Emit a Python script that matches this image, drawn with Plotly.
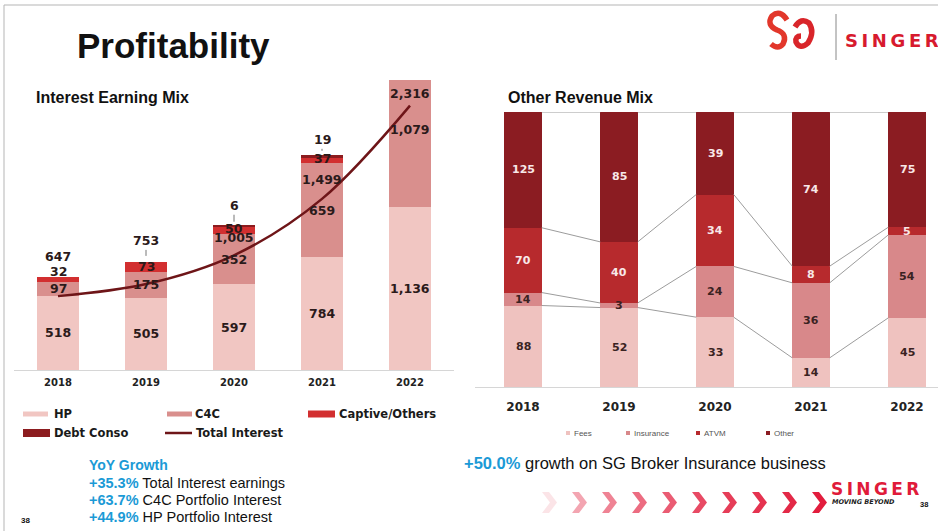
import plotly.graph_objects as go
import numpy as np

W, H = 938, 531

# ---------------- data ----------------
years = [2018, 2019, 2020, 2021, 2022]
year_labels = ["2018", "2019", "2020", "2021", "2022"]

# Interest Earning Mix (THB m)
hp = [518, 505, 597, 784, 1136]
c4c = [97, 175, 352, 659, 1079]
captive = [32, 73, 50, 37, 101]
debt_conso = [0, 0, 6, 19, 0]
total_interest = [647, 753, 1005, 1499, 2316]

# Other Revenue Mix
fees = [88, 52, 33, 14, 45]
insurance = [14, 3, 24, 36, 54]
atvm = [70, 40, 34, 8, 5]
other = [125, 85, 39, 74, 75]

# ---------------- styles ----------------
C_HP, C_C4C, C_CAP, C_DEBT, C_LINE = "#f1c6c2", "#d98f8d", "#d22f30", "#8c1c1f", "#6e1518"
C_FEES, C_INS, C_ATVM, C_OTHER = "#efc2bf", "#d8888a", "#b72a2d", "#8b1c22"
LBL = "DejaVu Sans"
BLUE = "#1b9ad6"


def px(x):
    return x / W


def py(y):
    return 1 - y / H


fig = go.Figure()

# ---------------- left chart ----------------
for name, vals, col in [("HP", hp, C_HP), ("C4C", c4c, C_C4C),
                        ("Captive/Others", captive, C_CAP), ("Debt Conso", debt_conso, C_DEBT)]:
    fig.add_trace(go.Bar(x=years, y=vals, name=name, marker=dict(color=col, line=dict(width=0)),
                         width=0.48, xaxis="x", yaxis="y", hoverinfo="skip"))
fig.add_trace(go.Scatter(x=years, y=total_interest, name="Total Interest", mode="lines",
                         line=dict(color=C_LINE, width=2.5, shape="spline", smoothing=1.0),
                         xaxis="x", yaxis="y2", hoverinfo="skip"))

# ---------------- right chart ----------------
rev = np.array([fees, insurance, atvm, other], dtype=float)
rev_tot = rev.sum(axis=0)
rev_pct = rev / rev_tot * 100
rev_names = ["Fees", "Insurance", "ATVM", "Other"]
rev_cols = [C_FEES, C_INS, C_ATVM, C_OTHER]
BW2 = 0.39
for i in range(4):
    fig.add_trace(go.Bar(x=years, y=rev_pct[i], name=rev_names[i],
                         marker=dict(color=rev_cols[i], line=dict(width=0)),
                         width=BW2, xaxis="x2", yaxis="y3", hoverinfo="skip"))

# series lines connecting segment boundaries
cum = np.cumsum(rev_pct, axis=0)
for i in range(4):
    xs, ys = [], []
    for j in range(len(years) - 1):
        xs += [years[j] + BW2 / 2, years[j + 1] - BW2 / 2, None]
        ys += [cum[i][j], cum[i][j + 1], None]
    fig.add_trace(go.Scatter(x=xs, y=ys, mode="lines", line=dict(color="#9c9c9c", width=1),
                             xaxis="x2", yaxis="y3", hoverinfo="skip", connectgaps=False))

ann = []
shapes = []

# ---------- left data labels ----------
lf = dict(family=LBL, size=12.5, color="#2b1a1a")
for j, yr in enumerate(years):
    ann.append(dict(x=yr, y=hp[j] / 2, xref="x", yref="y", text=f"<b>{hp[j]:,}</b>",
                    showarrow=False, font=lf))
    ann.append(dict(x=yr, y=hp[j] + c4c[j] / 2, xref="x", yref="y", text=f"<b>{c4c[j]:,}</b>",
                    showarrow=False, font=lf))
cap_shift = [8, 1, 2, 2]
for j in range(4):
    ann.append(dict(x=years[j], y=hp[j] + c4c[j] + captive[j] / 2, xref="x", yref="y",
                    text=f"<b>{captive[j]:,}</b>", showarrow=False, font=lf, yshift=cap_shift[j]))
for j, ay in [(2, -20), (3, -15)]:
    top = hp[j] + c4c[j] + captive[j] + debt_conso[j]
    ann.append(dict(x=years[j], y=top, xref="x", yref="y", text=f"<b>{debt_conso[j]:,}</b>",
                    showarrow=True, arrowhead=0, arrowwidth=1, arrowcolor="#777", ax=0, ay=ay,
                    standoff=4, font=lf))
# totals
ann.append(dict(x=years[0], y=total_interest[0], xref="x", yref="y", text=f"<b>{total_interest[0]:,}</b>",
                showarrow=False, yshift=21, font=lf))
ann.append(dict(x=years[1], y=total_interest[1], xref="x", yref="y", text=f"<b>{total_interest[1]:,}</b>",
                showarrow=True, arrowhead=0, arrowwidth=1, arrowcolor="#777", ax=0, ay=-21,
                standoff=6, font=lf))
for j, sh in [(2, 18), (3, 19), (4, 12)]:
    ann.append(dict(x=years[j], y=total_interest[j], xref="x", yref="y2",
                    text=f"<b>{total_interest[j]:,}</b>", showarrow=False, yshift=sh, font=lf))

# ---------- right data labels ----------
for i in range(4):
    colr = "#3a2222" if i < 2 else "#f8e8e8"
    for j, yr in enumerate(years):
        ann.append(dict(x=yr, y=cum[i][j] - rev_pct[i][j] / 2, xref="x2", yref="y3",
                        text=f"<b>{int(rev[i][j])}</b>", showarrow=False,
                        font=dict(family=LBL, size=11, color=colr)))

# ---------- titles & texts ----------
def txt(x, y, s, size, color="#111", family="Liberation Sans", anchor="left", bold=False, italic=False):
    if bold:
        s = f"<b>{s}</b>"
    if italic:
        s = f"<i>{s}</i>"
    ann.append(dict(x=px(x), y=py(y), xref="paper", yref="paper", text=s, showarrow=False,
                    xanchor=anchor, yanchor="middle", font=dict(family=family, size=size, color=color)))


txt(75, 45, "Profitability", 35, bold=True)
txt(34, 97, "Interest Earning Mix", 16, bold=True)
txt(506, 97, "Other Revenue Mix", 16, bold=True)

# left legend (manual)
leg = [(23, 48, 414, 5, C_HP, "HP", 52), (167, 192, 414, 5, C_C4C, "C4C", 193),
       (308, 335, 414, 7, C_CAP, "Captive/Others", 337), (23, 50, 433, 8, C_DEBT, "Debt Conso", 52),
       (165, 192, 433, 2.5, C_LINE, "Total Interest", 194)]
for x0, x1, yc, hh, col, name, tx in leg:
    shapes.append(dict(type="rect", xref="paper", yref="paper", x0=px(x0), x1=px(x1),
                       y0=py(yc + hh / 2), y1=py(yc - hh / 2), fillcolor=col, line=dict(width=0)))
    txt(tx, yc, name, 11.5, color="#1a1a1a", family=LBL, bold=True)

# right legend (manual)
for x0, col, name in [(566, C_FEES, "Fees"), (626, C_INS, "Insurance"), (696, C_ATVM, "ATVM"),
                      (766, C_OTHER, "Other")]:
    shapes.append(dict(type="rect", xref="paper", yref="paper", x0=px(x0), x1=px(x0 + 4),
                       y0=py(435), y1=py(431), fillcolor=col, line=dict(width=0)))
    txt(x0 + 6, 433, name, 8, color="#555")

txt(87, 465, "YoY Growth", 14, color=BLUE, bold=True)
txt(87, 483, f"<b><span style='color:{BLUE}'>+35.3%</span></b> Total Interest earnings", 14.5)
txt(87, 500, f"<b><span style='color:{BLUE}'>+63.7%</span></b> C4C Portfolio Interest", 14.5)
txt(87, 517, f"<b><span style='color:{BLUE}'>+44.9%</span></b> HP Portfolio Interest", 14.5)
txt(462, 463, f"<b><span style='color:{BLUE}'>+50.0%</span></b> growth on SG Broker Insurance business", 16.5)
txt(19, 520, "38", 8, bold=True)

# SINGER logos
txt(843, 40, "S\u2009I\u2009N\u2009G\u2009E\u2009R", 18, color="#d71a2e", family=LBL, bold=True)
txt(829, 489, "S\u2009I\u2009N\u2009G\u2009E\u2009R", 17, color="#e01b3a", family=LBL, bold=True)
txt(830, 502, "MOVING BEYOND", 6.5, color="#222", family=LBL, bold=True, italic=True)
txt(918, 504, "38", 7.5, bold=True)
shapes.append(dict(type="line", xref="paper", yref="paper", x0=px(836), x1=px(836),
                   y0=py(14), y1=py(60), line=dict(color="#888", width=1)))


def P(x, y):
    return f"{px(x):.5f},{py(y):.5f}"


# stylised red logo mark
shapes.append(dict(type="path", xref="paper", yref="paper",
                   path=f"M {P(787,20)} Q {P(780,9)} {P(772,16)} Q {P(766,25)} {P(777,30)} "
                        f"Q {P(788,34)} {P(783,44)} Q {P(778,50)} {P(771,44)}",
                   line=dict(color="#e2372b", width=5.5)))
shapes.append(dict(type="path", xref="paper", yref="paper",
                   path=f"M {P(795,27)} Q {P(801,17)} {P(809,23)} Q {P(815,32)} {P(808,43)} "
                        f"Q {P(800,50)} {P(796,42)} Q {P(795,36)} {P(801,36)}",
                   line=dict(color="#d9252a", width=5.5)))

# chevrons
chev_op = [0.12, 0.4, 0.55, 0.65, 0.72, 0.8, 0.86, 0.9, 0.95, 1.0]
for k, op in enumerate(chev_op):
    x = 542 + 30 * k
    t, d, y0, y1 = 7, 8, 492, 513
    ym = (y0 + y1) / 2
    path = (f"M {P(x,y0)} L {P(x+t,y0)} L {P(x+t+d,ym)} L {P(x+t,y1)} L {P(x,y1)} L {P(x+d,ym)} Z")
    shapes.append(dict(type="path", xref="paper", yref="paper", path=path,
                       fillcolor="#e21d3d", opacity=op, line=dict(width=0)))

# slide frame
shapes.append(dict(type="rect", xref="paper", yref="paper", x0=px(4), x1=px(945), y0=py(540),
                   y1=py(5), line=dict(color="#b5b5b5", width=1), fillcolor="rgba(0,0,0,0)"))

fig.update_layout(
    width=W, height=H, margin=dict(l=0, r=0, t=0, b=0),
    paper_bgcolor="white", plot_bgcolor="rgba(0,0,0,0)",
    barmode="stack", showlegend=False, bargap=0,
    annotations=ann, shapes=shapes,
    xaxis=dict(domain=[px(14), px(454)], range=[2017.5, 2022.5], tickvals=years, ticktext=year_labels,
               showgrid=False, zeroline=False, showline=True, linecolor="#d6d6d6", linewidth=1,
               ticks="", ticklabelstandoff=3,
               tickfont=dict(family=LBL, size=10, color="#222", weight="bold")),
    yaxis=dict(domain=[py(370), py(80)], range=[0, 2020], visible=False),
    yaxis2=dict(overlaying="y", range=[0, 2540], visible=False),
    xaxis2=dict(domain=[px(475), 1.0], range=[2017.5, 2017.5 + (W - 475) / 96], tickvals=years,
                ticktext=year_labels, showgrid=False, zeroline=False, showline=True,
                linecolor="#d6d6d6", linewidth=1, ticks="", ticklabelstandoff=9, anchor="y3",
                tickfont=dict(family=LBL, size=12, color="#222", weight="bold")),
    yaxis3=dict(domain=[py(387), py(112)], range=[0, 100], visible=False, anchor="x2"),
)

fig.write_html("out.html", config={"displayModeBar": False},
               post_script="document.body.style.margin='0px';document.body.style.overflow='hidden';")
